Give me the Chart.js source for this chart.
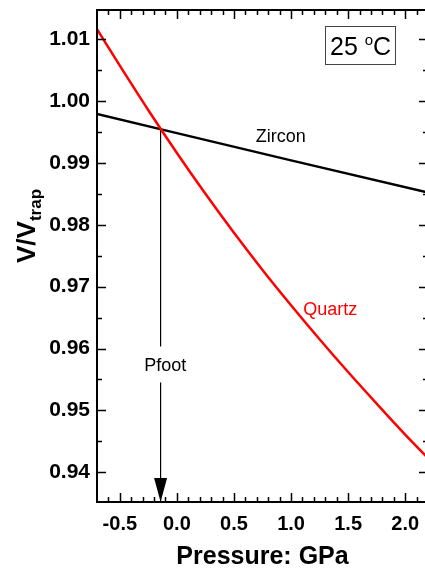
<!DOCTYPE html>
<html>
<head>
<meta charset="utf-8">
<script src="https://cdn.jsdelivr.net/npm/chart.js@4.4.0/dist/chart.umd.min.js"></script>
<style>
  html, body { margin: 0; padding: 0; background: #fff; overflow: hidden; }
  #wrap { width: 425px; height: 572px; overflow: hidden; }
</style>
</head>
<body>
<div id="wrap"><canvas id="chart" width="430" height="572"></canvas></div>
<script>
// V/Vtrap against pressure at 25 C, quartz and zircon
const quartzP = [-0.7, -0.5, -0.25, 0, 0.25, 0.5, 0.75, 1.0, 1.25, 1.5, 1.75, 2.0, 2.2];
const quartzV = [1.0116, 1.0057, 0.9985, 0.9916, 0.9850, 0.9787, 0.9727, 0.9670, 0.9615, 0.9562, 0.9511, 0.9461, 0.9423];
const zirconP = [-0.7, 0, 1.0, 2.2];
const zirconV = [0.9979, 0.9948, 0.9904, 0.9852];
const pfoot = { p: -0.143, v: 0.9954 };
const xTicks = [-0.5, 0, 0.5, 1.0, 1.5, 2.0];
const yTicks = [0.94, 0.95, 0.96, 0.97, 0.98, 0.99, 1.00, 1.01];

const X_MIN = -0.7, X_MAX = 2.2;
const Y_MIN = 0.9352, Y_MAX = 1.0147;
const FONT = "'Liberation Sans', Arial, sans-serif";

const toXY = (xs, ys) => xs.map((p, i) => ({ x: p, y: ys[i] }));

// frame, inward ticks, annotations and the y title
const decor = {
    id: 'decor',
    afterDatasetsDraw(chart) {
        const { ctx, chartArea: a, scales: { x, y } } = chart;
        ctx.save();

        // Pfoot arrow: gap for the label and the head
        const px = x.getPixelForValue(pfoot.p);
        const ly = y.getPixelForValue(0.9571);
        ctx.fillStyle = '#fff';
        ctx.fillRect(px - 3, ly - 20, 6, 36);
        ctx.fillStyle = '#000';
        ctx.beginPath();
        ctx.moveTo(px, a.bottom);
        ctx.lineTo(px - 6.5, a.bottom - 24);
        ctx.lineTo(px + 6.5, a.bottom - 24);
        ctx.closePath();
        ctx.fill();

        ctx.font = '18px ' + FONT;
        ctx.textAlign = 'center';
        ctx.textBaseline = 'middle';
        ctx.fillText('Pfoot', x.getPixelForValue(-0.103), ly);
        ctx.fillText('Zircon', x.getPixelForValue(0.91), y.getPixelForValue(0.9941));
        ctx.fillStyle = '#ff0000';
        ctx.fillText('Quartz', x.getPixelForValue(1.344), y.getPixelForValue(0.9662));

        // frame
        ctx.strokeStyle = '#000';
        ctx.lineWidth = 2;
        ctx.strokeRect(a.left, a.top, a.right - a.left, a.bottom - a.top);

        // ticks pointing inward
        ctx.lineWidth = 1.5;
        ctx.beginPath();
        for (let i = -6; i <= 21; i++) {
            const v = i / 10;
            const xp = Math.round(x.getPixelForValue(v)) + 0.5;
            const len = i % 5 === 0 ? 9 : 5;
            ctx.moveTo(xp, a.bottom); ctx.lineTo(xp, a.bottom - len);
            ctx.moveTo(xp, a.top); ctx.lineTo(xp, a.top + len);
        }
        for (let i = 188; i <= 202; i++) {
            const v = i / 200;
            const yp = Math.round(y.getPixelForValue(v)) + 0.5;
            const len = i % 2 === 0 ? 9 : 5;
            ctx.moveTo(a.left, yp); ctx.lineTo(a.left + len, yp);
            ctx.moveTo(a.right, yp); ctx.lineTo(a.right - len, yp);
        }
        ctx.stroke();

        // temperature box
        ctx.lineWidth = 1;
        ctx.strokeStyle = '#444';
        ctx.strokeRect(325.5, 26.5, 70, 38);
        ctx.fillStyle = '#000';
        ctx.textAlign = 'left';
        ctx.textBaseline = 'alphabetic';
        ctx.font = '25px ' + FONT;
        ctx.fillText('25 ', 330, 55);
        let tx = 330 + ctx.measureText('25 ').width;
        ctx.font = '15px ' + FONT;
        ctx.fillText('o', tx, 45);
        tx += ctx.measureText('o').width;
        ctx.font = '25px ' + FONT;
        ctx.fillText('C', tx, 55);

        // y title with subscript
        ctx.translate(35, 263);
        ctx.rotate(-Math.PI / 2);
        ctx.font = 'bold 26px ' + FONT;
        ctx.fillText('V/V', 0, 0);
        const w = ctx.measureText('V/V').width;
        ctx.font = 'bold 17px ' + FONT;
        ctx.fillText('trap', w, 6);

        ctx.restore();
    }
};

new Chart(document.getElementById('chart'), {
    type: 'line',
    data: {
        datasets: [
            {
                label: 'Quartz',
                data: toXY(quartzP, quartzV),
                borderColor: '#ff0000',
                borderWidth: 2.5,
                pointRadius: 0,
                cubicInterpolationMode: 'monotone'
            },
            {
                label: 'Zircon',
                data: toXY(zirconP, zirconV),
                borderColor: '#000',
                borderWidth: 2.5,
                pointRadius: 0
            },
            {
                label: 'Pfoot',
                data: [{ x: pfoot.p, y: pfoot.v }, { x: pfoot.p, y: Y_MIN }],
                borderColor: '#000',
                borderWidth: 1,
                pointRadius: 0
            }
        ]
    },
    options: {
        responsive: false,
        devicePixelRatio: 1,
        animation: false,
        layout: { padding: { top: 10, right: 2, left: 0, bottom: 0 } },
        plugins: { legend: { display: false }, tooltip: { enabled: false } },
        scales: {
            x: {
                type: 'linear',
                min: X_MIN,
                max: X_MAX,
                afterFit: s => { s.height = 70; s.paddingLeft = 0; s.paddingRight = 0; },
                afterBuildTicks: s => { s.ticks = xTicks.map(v => ({ value: v })); },
                grid: { display: false, drawTicks: false },
                border: { display: false },
                ticks: {
                    autoSkip: false,
                    maxRotation: 0,
                    padding: 10,
                    color: '#000',
                    font: { family: FONT, size: 20, weight: 'bold' },
                    callback: v => v.toFixed(1)
                },
                title: {
                    display: true,
                    text: 'Pressure: GPa',
                    color: '#000',
                    padding: { top: 8, bottom: 0 },
                    font: { family: FONT, size: 25, weight: 'bold' }
                }
            },
            y: {
                type: 'linear',
                min: Y_MIN,
                max: Y_MAX,
                afterFit: s => { s.width = 97; s.paddingTop = 0; s.paddingBottom = 0; },
                afterBuildTicks: s => { s.ticks = yTicks.map(v => ({ value: v })); },
                grid: { display: false, drawTicks: false },
                border: { display: false },
                ticks: {
                    padding: 7,
                    color: '#000',
                    font: { family: FONT, size: 21, weight: 'bold' },
                    callback: v => v.toFixed(2)
                }
            }
        }
    },
    plugins: [decor]
});
</script>
</body>
</html>
